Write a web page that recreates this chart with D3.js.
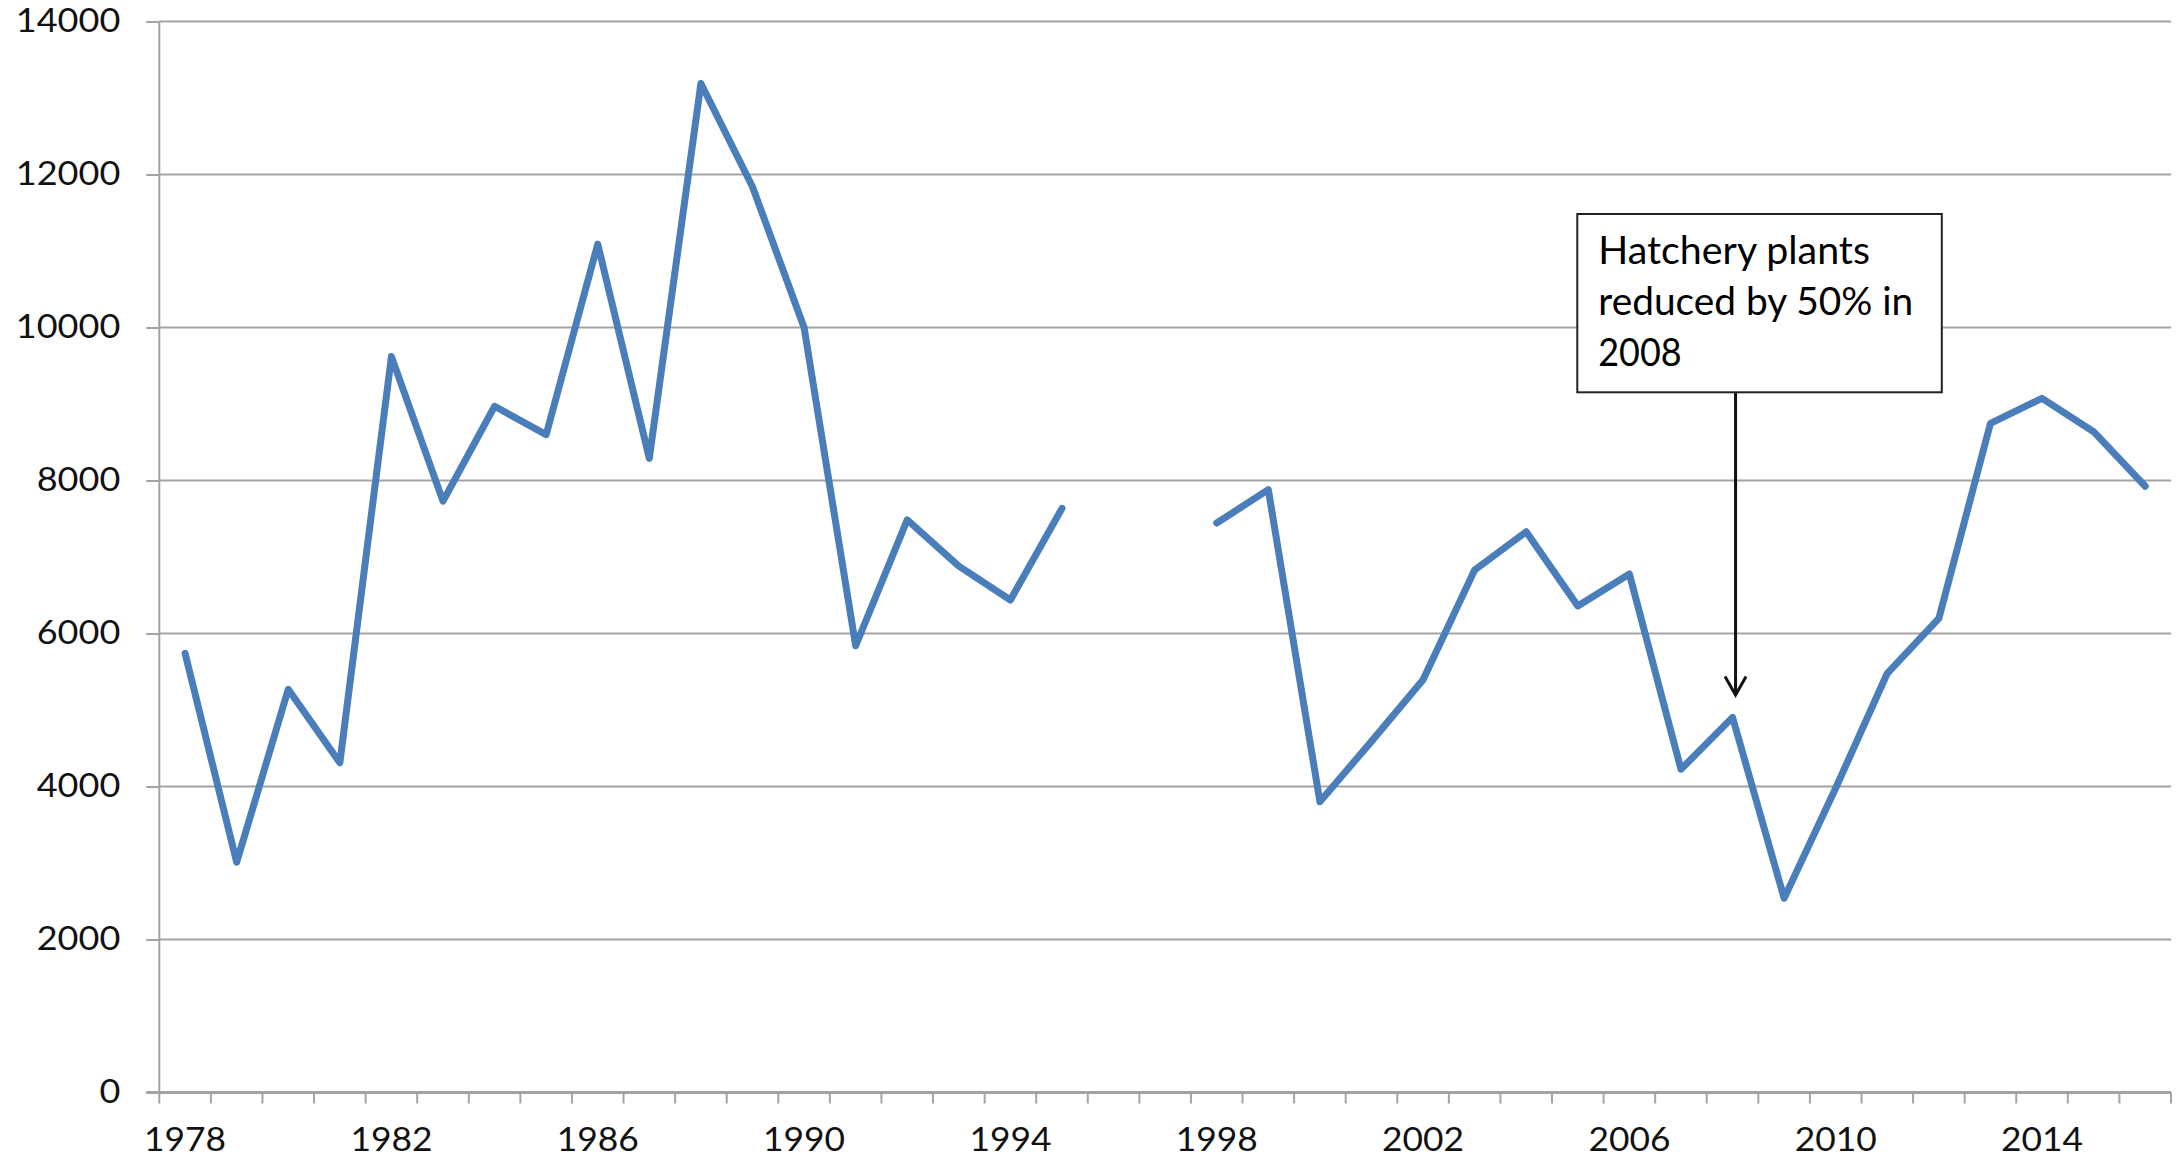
<!DOCTYPE html>
<html>
<head>
<meta charset="utf-8">
<script src="https://cdn.jsdelivr.net/npm/d3@7"></script>
<style>
  html, body { margin: 0; padding: 0; background: #fff; }
  svg { display: block; }
</style>
</head>
<body>
<svg id="chart" width="2179" height="1158"></svg>
<script>
// ---- data ----
const years = [1978,1979,1980,1981,1982,1983,1984,1985,1986,1987,1988,1989,1990,1991,1992,1993,1994,1995,1996,1997,
               1998,1999,2000,2001,2002,2003,2004,2005,2006,2007,2008,2009,2010,2011,2012,2013,2014,2015,2016];
const values = [5740,3010,5270,4310,9620,7730,8970,8600,11090,8290,13190,11840,10000,5840,7485,6880,6438,7636,null,null,
                7445,7880,3800,4590,5395,6830,7330,6360,6778,4225,4904,2540,3980,5480,6198,8748,9074,8638,7925];
const xTickLabels = [1978,1982,1986,1990,1994,1998,2002,2006,2010,2014];
const yTickValues = [0,2000,4000,6000,8000,10000,12000,14000];
const annotationYear = 2008;
const annotationLines = ["Hatchery plants", "reduced by 50% in", "2008"];

(function () {
// ---- layout ----
const svg = d3.select("#chart");
const pLeft = 159.3, pRight = 2171, pTop = 21.5, pBottom = 1092.5;

const x = d3.scaleBand().domain(years).range([pLeft, pRight]).padding(0);
const y = d3.scaleLinear().domain([0, 14000]).range([pBottom, pTop]);
const cx = d => x(d) + x.bandwidth() / 2;

const gridColor = "#a3a3a3";
const textColor = "#111";
const digitW = 20.9;

// gridlines
svg.append("g").selectAll("line")
  .data(yTickValues.filter(v => v > 0))
  .join("line")
  .attr("x1", pLeft).attr("x2", pRight)
  .attr("y1", d => y(d)).attr("y2", d => y(d))
  .attr("stroke", gridColor).attr("stroke-width", 2);

// y axis
const yAxis = svg.append("g")
  .attr("transform", `translate(${pLeft},0)`)
  .call(d3.axisLeft(y).tickValues(yTickValues).tickSize(13).tickPadding(26).tickFormat(d3.format("d")));
yAxis.select(".domain").attr("stroke", gridColor).attr("stroke-width", 2)
  .attr("d", `M0,${pTop}V${pBottom}`);
yAxis.selectAll(".tick line").attr("stroke", gridColor).attr("stroke-width", 2);
yAxis.selectAll(".tick text")
  .attr("fill", textColor)
  .style("font-family", "Lato, 'Open Sans', sans-serif")
  .style("font-size", "32px")
  .attr("textLength", d => String(d).length * digitW)
  .attr("lengthAdjust", "spacingAndGlyphs");

// x axis: line + ticks at category boundaries
const xg = svg.append("g");
xg.append("line")
  .attr("x1", pLeft - 13).attr("x2", pRight)
  .attr("y1", pBottom).attr("y2", pBottom)
  .attr("stroke", gridColor).attr("stroke-width", 3);
const boundaries = years.map(d => x(d)).concat([x(years[years.length - 1]) + x.bandwidth()]);
xg.selectAll("line.tk")
  .data(boundaries)
  .join("line")
  .attr("class", "tk")
  .attr("x1", d => d).attr("x2", d => d)
  .attr("y1", pBottom).attr("y2", pBottom + 11)
  .attr("stroke", gridColor).attr("stroke-width", 2);

// x labels through a bottom axis on the band scale
const xAxis = svg.append("g")
  .attr("transform", `translate(0,${pBottom})`)
  .call(d3.axisBottom(x).tickValues(xTickLabels).tickSize(0).tickFormat(d3.format("d")));
xAxis.select(".domain").remove();
xAxis.selectAll(".tick text")
  .attr("y", 58.5).attr("dy", null)
  .attr("fill", textColor)
  .style("font-family", "Lato, 'Open Sans', sans-serif")
  .style("font-size", "32px")
  .attr("textLength", d => String(d).length * 20.5)
  .attr("lengthAdjust", "spacingAndGlyphs");

// data line
const data = years.map((yr, i) => ({ year: yr, value: values[i] }));
const line = d3.line()
  .defined(d => d.value != null)
  .x(d => cx(d.year))
  .y(d => y(d.value));
svg.append("path")
  .datum(data)
  .attr("d", line)
  .attr("fill", "none")
  .attr("stroke", "#4a7ebb")
  .attr("stroke-width", 7)
  .attr("stroke-linejoin", "round")
  .attr("stroke-linecap", "round");

// annotation
const ax = cx(annotationYear) + 3;
const boxX = 1577.3, boxY = 214, boxW = 364.5, boxH = 178.3;
const tipY = 695;
const ann = svg.append("g");
ann.append("line")
  .attr("x1", ax).attr("x2", ax)
  .attr("y1", boxY + boxH).attr("y2", tipY)
  .attr("stroke", "#111").attr("stroke-width", 3);
ann.append("path")
  .attr("d", `M${ax - 10.5},${tipY - 18.5}L${ax},${tipY}L${ax + 10.5},${tipY - 18.5}`)
  .attr("fill", "none").attr("stroke", "#111").attr("stroke-width", 3);
ann.append("rect")
  .attr("x", boxX).attr("y", boxY).attr("width", boxW).attr("height", boxH)
  .attr("fill", "#fff").attr("stroke", "#222").attr("stroke-width", 2);
const annWidths = [271.7, 315, 83.3];
ann.selectAll("text")
  .data(annotationLines)
  .join("text")
  .attr("x", 1598.3)
  .attr("y", (d, i) => 264 + i * 51)
  .attr("fill", "#000")
  .style("font-family", "Lato, 'Open Sans', sans-serif")
  .style("font-size", "39px")
  .attr("textLength", (d, i) => annWidths[i])
  .attr("lengthAdjust", "spacingAndGlyphs")
  .text(d => d);
})();
</script>
</body>
</html>
